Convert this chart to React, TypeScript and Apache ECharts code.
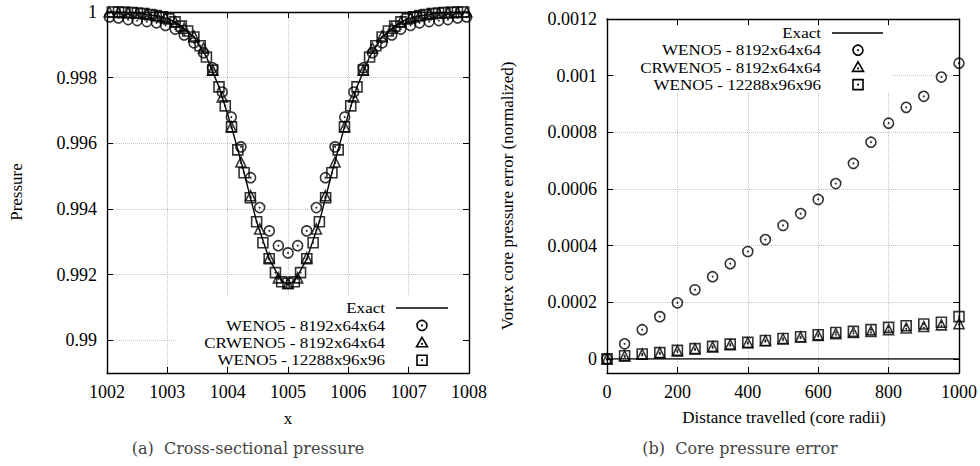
import React, { useEffect, useRef } from "react";
import * as echarts from "echarts";

// ---------- Data: (a) Cross-sectional pressure ----------
const circleX = [
  1002.04, 1002.19, 1002.35, 1002.5, 1002.66, 1002.82, 1002.97, 1003.13, 1003.28, 1003.44,
  1003.6, 1003.75, 1003.91, 1004.06, 1004.22, 1004.38, 1004.53, 1004.69, 1004.84, 1005.0,
  1005.16, 1005.31, 1005.47, 1005.62, 1005.78, 1005.94, 1006.09, 1006.25, 1006.4, 1006.56,
  1006.72, 1006.87, 1007.03, 1007.18, 1007.34, 1007.5, 1007.65, 1007.81, 1007.96,
];
const weno5P = [
  0.99985, 0.99982, 0.99977, 0.99974, 0.99971, 0.99967, 0.99959, 0.99948, 0.9993, 0.99906,
  0.99876, 0.9983, 0.99756, 0.9968, 0.99589, 0.99495, 0.99404, 0.99333, 0.99288, 0.99266,
  0.99288, 0.99333, 0.99404, 0.99495, 0.99589, 0.9968, 0.99756, 0.9983, 0.99876, 0.99906,
  0.9993, 0.99948, 0.99959, 0.99967, 0.99971, 0.99974, 0.99977, 0.99982, 0.99985,
];
const crweno5P = [
  1.0, 0.99999, 0.99998, 0.99997, 0.99994, 0.99989, 0.99982, 0.9997, 0.99951, 0.99927,
  0.9989, 0.99823, 0.99741, 0.9965, 0.99543, 0.9944, 0.99339, 0.99251, 0.9919, 0.99172,
  0.9919, 0.99251, 0.99339, 0.9944, 0.99543, 0.9965, 0.99741, 0.99823, 0.9989, 0.99927,
  0.99951, 0.9997, 0.99982, 0.99989, 0.99994, 0.99997, 0.99998, 0.99999, 1.0,
];
const squareX = [
  1002.088, 1002.192, 1002.296, 1002.4, 1002.504, 1002.608, 1002.712, 1002.816, 1002.92, 1003.024,
  1003.128, 1003.232, 1003.336, 1003.44, 1003.544, 1003.648, 1003.752, 1003.856, 1003.96, 1004.064,
  1004.168, 1004.272, 1004.376, 1004.48, 1004.584, 1004.688, 1004.792, 1004.896, 1005.0,
  1005.104, 1005.208, 1005.312, 1005.416, 1005.52, 1005.624, 1005.728, 1005.832, 1005.936, 1006.04,
  1006.144, 1006.248, 1006.352, 1006.456, 1006.56, 1006.664, 1006.768, 1006.872, 1006.976, 1007.08,
  1007.184, 1007.288, 1007.392, 1007.496, 1007.6, 1007.704, 1007.808, 1007.912,
];
const weno5FineP = [
  1.0, 1.0, 0.99999, 0.99998, 0.99997, 0.99995, 0.99992, 0.99989, 0.99985, 0.99979,
  0.9997, 0.99957, 0.99942, 0.99924, 0.99897, 0.99863, 0.99823, 0.99772, 0.99714, 0.9965,
  0.9958, 0.9951, 0.99434, 0.99361, 0.99297, 0.99248, 0.99206, 0.99178, 0.99174,
  0.99178, 0.99206, 0.99248, 0.99297, 0.99361, 0.99434, 0.9951, 0.9958, 0.9965, 0.99714,
  0.99772, 0.99823, 0.99863, 0.99897, 0.99924, 0.99942, 0.99957, 0.9997, 0.99979, 0.99985,
  0.99989, 0.99992, 0.99995, 0.99997, 0.99998, 0.99999, 1.0, 1.0,
];
const exactX = [
  1002.0, 1002.4, 1002.8, 1003.024, 1003.232, 1003.44, 1003.648, 1003.856, 1004.064, 1004.272,
  1004.48, 1004.688, 1004.896, 1005.0, 1005.104, 1005.312, 1005.52, 1005.728, 1005.936, 1006.144,
  1006.352, 1006.56, 1006.768, 1006.976, 1007.2, 1007.6, 1008.0,
];
const exactP = [
  1.0, 0.99998, 0.99989, 0.99979, 0.99957, 0.99924, 0.99863, 0.99772, 0.9965, 0.9951,
  0.99361, 0.99248, 0.99178, 0.99172, 0.99178, 0.99248, 0.99361, 0.9951, 0.9965, 0.99772,
  0.99863, 0.99924, 0.99957, 0.99979, 0.99989, 0.99998, 1.0,
];

// ---------- Data: (b) Core pressure error ----------
const distance = [0, 50, 100, 150, 200, 250, 300, 350, 400, 450, 500, 550, 600, 650, 700, 750, 800, 850, 900, 950, 1000];
const weno5Err = [
  0, 0.000053, 0.000103, 0.000149, 0.000198, 0.000244, 0.00029, 0.000336, 0.000379, 0.000421,
  0.000471, 0.000513, 0.000563, 0.000619, 0.00069, 0.000765, 0.000832, 0.000888, 0.000927, 0.000995, 0.001044,
];
const crweno5Err = [
  0, 0.00001, 0.000016, 0.000021, 0.000028, 0.000035, 0.000042, 0.00005, 0.000057, 0.000064,
  0.00007, 0.000077, 0.000083, 0.000089, 0.000093, 0.000097, 0.000103, 0.000109, 0.000114, 0.00012, 0.000124,
];
const weno5FineErr = [
  0, 0.000011, 0.000017, 0.000022, 0.00003, 0.000036, 0.000044, 0.000052, 0.000058, 0.000065,
  0.000072, 0.000078, 0.000085, 0.000093, 0.000097, 0.000103, 0.000111, 0.000117, 0.000123, 0.000129, 0.000149,
];
const exactErrX = [0, 1000];
const exactErr = [0, 0];

const legendNames = ["Exact", "WENO5 - 8192x64x64", "CRWENO5 - 8192x64x64", "WENO5 - 12288x96x96"];
const xTicksA = [1002, 1008, 1];
const xTicksB = [0, 1000, 200];

const SERIF = "Liberation Serif";
const CAPTION = "DejaVu Serif";

const zip = (xs: number[], ys: number[]) => xs.map((x, i) => [x, ys[i]]);
const fmt = (v: number) => String(+Number(v).toPrecision(10));

export default function App() {
  const ref = useRef<HTMLDivElement>(null);
  useEffect(() => {
    if (!ref.current) return;
    const chart = echarts.init(ref.current, null, { renderer: "svg" });

    const axisLine = { show: true, onZero: false, lineStyle: { color: "#000", width: 1.4 } };
    const axisTick = { show: true, inside: true, length: 6, lineStyle: { color: "#000", width: 1 } };
    const split = { show: true, lineStyle: { color: "#c4c4c4", type: "dotted", width: 1 } };
    const label = { color: "#000", fontFamily: SERIF, fontSize: 18, formatter: fmt };

    const mkX = (gi: number, pos: string, t: number[], main: boolean) => ({
      type: "value", gridIndex: gi, position: pos, min: t[0], max: t[1], interval: t[2],
      axisLine, axisTick,
      axisLabel: main ? { ...label, margin: 10 } : { show: false },
      splitLine: main ? split : { show: false },
    });
    const mkY = (gi: number, pos: string, mn: number, mx: number, iv: number, sn: number, main: boolean) => ({
      type: "value", gridIndex: gi, position: pos, min: mn, max: mx, splitNumber: sn,
      minInterval: iv, maxInterval: iv,
      axisLine, axisTick,
      axisLabel: main ? { ...label, margin: 10, showMinLabel: false } : { show: false },
      splitLine: main ? split : { show: false },
    });

    const marker = (sym: string, size: number) => ({
      symbol: sym, symbolSize: size,
      itemStyle: { color: "rgba(0,0,0,0)", borderColor: "#000", borderWidth: 1.6 },
    });
    const scat = (xi: number, data: number[][], sym: string, size: number, name: string) => ({
      type: "scatter", name, xAxisIndex: xi, yAxisIndex: xi, data, z: 3, ...marker(sym, size),
    });
    const dots = (xi: number, data: number[][], dy = 0) => ({
      type: "scatter", xAxisIndex: xi, yAxisIndex: xi, data, z: 4, symbol: "circle", symbolSize: 2,
      symbolOffset: [0, dy], itemStyle: { color: "#000" }, silent: true,
    });
    const line = (xi: number, data: number[][]) => ({
      type: "line", name: "Exact", xAxisIndex: xi, yAxisIndex: xi, data, showSymbol: false, z: 2,
      lineStyle: { color: "#000", width: 1.4 },
    });

    const aC = zip(circleX, weno5P), aT = zip(circleX, crweno5P), aS = zip(squareX, weno5FineP);
    const bC = zip(distance, weno5Err), bT = zip(distance, crweno5Err), bS = zip(distance, weno5FineErr);

    const legend = (rx: number, y0: number, lx0: number, lx1: number, mx: number, dy: number) => {
      const els: any[] = [];
      legendNames.forEach((n, i) => {
        els.push({ type: "text", x: rx, y: y0 + i * dy, z: 20, scaleX: 1.1,
          style: { text: n, fill: "#000", fontFamily: SERIF, fontSize: 15.5, align: "right", verticalAlign: "middle" } });
      });
      const st = { fill: "none", stroke: "#000", lineWidth: 1.6 };
      els.push({ type: "line", z: 20, shape: { x1: lx0, y1: y0, x2: lx1, y2: y0 }, style: { stroke: "#000", lineWidth: 1.4 } });
      els.push({ type: "circle", z: 20, shape: { cx: mx, cy: y0 + dy, r: 5 }, style: st });
      els.push({ type: "polygon", z: 20, shape: { points: [[mx - 5.5, y0 + 2 * dy + 4], [mx + 5.5, y0 + 2 * dy + 4], [mx, y0 + 2 * dy - 5.5]] }, style: st });
      els.push({ type: "rect", z: 20, shape: { x: mx - 5, y: y0 + 3 * dy - 5, width: 10, height: 10 }, style: st });
      [1, 2, 3].forEach((i) => els.push({ type: "circle", z: 20, shape: { cx: mx, cy: y0 + i * dy + (i === 2 ? 1 : 0), r: 1 }, style: { fill: "#000" } }));
      return els;
    };

    const txt = (text: string, x: number, y: number, extra: any = {}) => ({
      type: "text", x, y, z: 20, ...extra,
      style: { text, fill: "#000", fontFamily: SERIF, fontSize: 17, align: "center", verticalAlign: "middle" },
    });

    const option: any = {
      animation: false,
      backgroundColor: "#fff",
      grid: [
        { left: 107, top: 12, width: 362, height: 361 },
        { left: 607, top: 19, width: 354, height: 354 },
      ],
      xAxis: [
        mkX(0, "bottom", xTicksA, true),
        mkX(0, "top", xTicksA, false),
        mkX(1, "bottom", xTicksB, true),
        mkX(1, "top", xTicksB, false),
      ],
      yAxis: [
        mkY(0, "left", 0.989, 1, 0.002, 5, true),
        mkY(0, "right", 0.989, 1, 0.002, 5, false),
        mkY(1, "left", -0.00005, 0.0012, 0.0002, 6, true),
        mkY(1, "right", -0.00005, 0.0012, 0.0002, 6, false),
      ],
      series: [
        line(0, zip(exactX, exactP)),
        scat(0, aC, "circle", 10, legendNames[1]),
        scat(0, aT, "triangle", 10, legendNames[2]),
        scat(0, aS, "rect", 10, legendNames[3]),
        dots(0, aC), dots(0, aT, 1), dots(0, aS),
        line(2, zip(exactErrX, exactErr)),
        scat(2, bC, "circle", 10, legendNames[1]),
        scat(2, bT, "triangle", 10, legendNames[2]),
        scat(2, bS, "rect", 10, legendNames[3]),
        dots(2, bC), dots(2, bT, 1), dots(2, bS),
      ],
      graphic: [
        { type: "rect", z: 10, shape: { x: 176, y: 296, width: 286, height: 70 }, style: { fill: "#fff" } },
        { type: "rect", z: 10, shape: { x: 616, y: 26, width: 276, height: 67 }, style: { fill: "#fff" } },
        ...legend(385, 308, 396, 448, 422, 17.4),
        ...legend(821, 33, 832, 883, 858, 17.2),
        txt("Pressure", 16, 192, { rotation: Math.PI / 2 }),
        txt("Vortex core pressure error (normalized)", 507, 196, { rotation: Math.PI / 2 }),
        txt("x", 288, 418),
        txt("Distance travelled (core radii)", 784, 417),
        { type: "text", x: 248, y: 448, z: 20,
          style: { text: "(a)  Cross-sectional pressure", fill: "#444", fontFamily: CAPTION, fontSize: 16, align: "center", verticalAlign: "middle" } },
        { type: "text", x: 740, y: 448, z: 20,
          style: { text: "(b)  Core pressure error", fill: "#444", fontFamily: CAPTION, fontSize: 16, align: "center", verticalAlign: "middle" } },
      ],
    };
    chart.setOption(option);
    return () => chart.dispose();
  }, []);
  return <div ref={ref} style={{ position: "fixed", left: 0, top: 0, width: 980, height: 466 }} />;
}
